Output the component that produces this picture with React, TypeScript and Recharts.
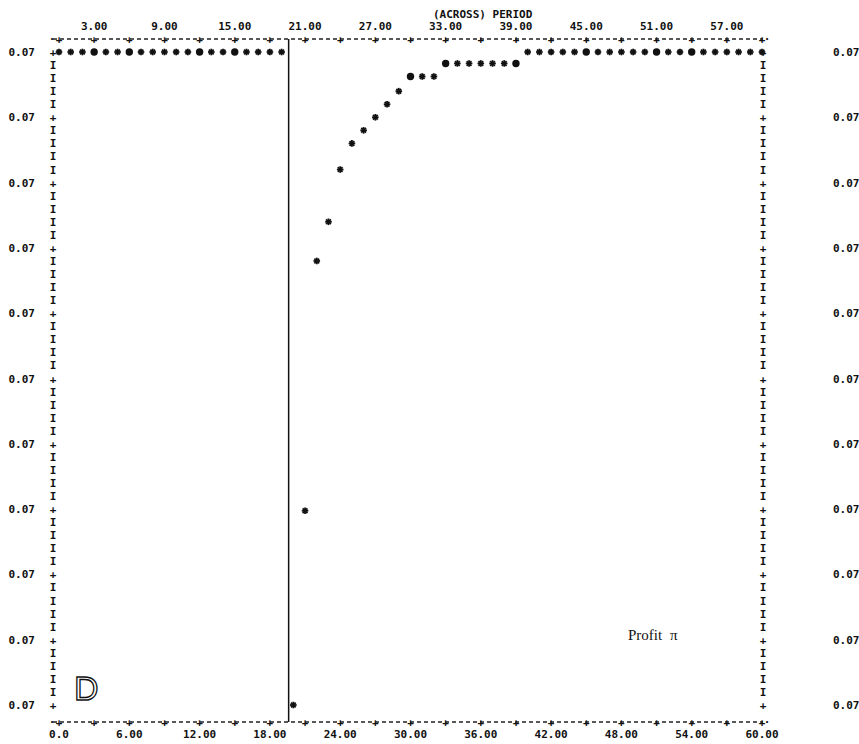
import { ScatterChart, Scatter, XAxis, YAxis, ReferenceLine } from "recharts";

// period index along the x axis
const periods = [
  0, 1, 2, 3, 4, 5, 6, 7, 8, 9, 10, 11, 12, 13, 14, 15, 16, 17, 18, 19, 20,
  21, 22, 23, 24, 25, 26, 27, 28, 29, 30, 31, 32, 33, 34, 35, 36, 37, 38, 39,
  40, 41, 42, 43, 44, 45, 46, 47, 48, 49, 50, 51, 52, 53, 54, 55, 56, 57, 58,
  59, 60,
];

// profit per period
const profit = [
  0.074, 0.074, 0.074, 0.074, 0.074, 0.074, 0.074, 0.074, 0.074, 0.074,
  0.074, 0.074, 0.074, 0.074, 0.074, 0.074, 0.074, 0.074, 0.074, 0.074,
  0.07, 0.07119, 0.07272, 0.07296, 0.07328, 0.07344, 0.07352, 0.0736, 0.07368,
  0.07376, 0.07385, 0.07385, 0.07385, 0.07393, 0.07393, 0.07393, 0.07393,
  0.07393, 0.07393, 0.07393, 0.074, 0.074, 0.074, 0.074, 0.074, 0.074, 0.074,
  0.074, 0.074, 0.074, 0.074, 0.074, 0.074, 0.074, 0.074, 0.074, 0.074,
  0.074, 0.074, 0.074, 0.074,
];

// periods printed as overstruck (filled) dots instead of '*'
const dotPeriods = [3, 6, 12, 15, 30, 33, 39, 45, 51, 54];

const xTicks = [0, 3, 6, 9, 12, 15, 18, 21, 24, 27, 30, 33, 36, 39, 42, 45, 48, 51, 54, 57, 60];
const bottomLabels = [0, 6, 12, 18, 24, 30, 36, 42, 48, 54, 60];
const topLabels = [3, 9, 15, 21, 27, 33, 39, 45, 51, 57];
const yMajor = [0.07, 0.0704, 0.0708, 0.0712, 0.0716, 0.072, 0.0724, 0.0728, 0.0732, 0.0736, 0.074];
const dropPeriod = 19.6;

const MONO = '"DejaVu Sans Mono", "Liberation Mono", monospace';

// 'I' rows between the '+' marks, like the printer border
const yTicks: number[] = [];
yMajor.forEach((v, i) => {
  yTicks.push(v);
  if (i < yMajor.length - 1) {
    const step = (yMajor[i + 1] - v) / 5;
    for (let k = 1; k < 5; k++) yTicks.push(v + step * k);
  }
});

const isMajor = (v: number) => yMajor.some((m) => Math.abs(m - v) < 1e-7);

const data = periods.map((p, i) => ({ period: p, profit: profit[i] }));
const starData = data.filter((d) => !dotPeriods.includes(d.period));
const dotData = data.filter((d) => dotPeriods.includes(d.period));

const glyph = { fontFamily: MONO, fontSize: 11, fontWeight: 700, fill: "#111" };

function BottomTick(props: any) {
  const { x, y, payload, index } = props;
  const v = payload.value;
  return (
    <g>
      <text x={x} y={y + 4} textAnchor="middle" {...glyph}>+</text>
      {index === 0 && <text x={x - 7} y={y + 1} textAnchor="middle" {...glyph}>.</text>}
      {v === 60 && <text x={x + 5} y={y + 1} textAnchor="middle" {...glyph}>.</text>}
      {bottomLabels.includes(v) && (
        <text x={x} y={y + 16} textAnchor="middle" {...glyph}>
          {v === 0 ? "0.0" : v.toFixed(2)}
        </text>
      )}
    </g>
  );
}

function TopTick(props: any) {
  const { x, y, payload, index } = props;
  const v = payload.value;
  return (
    <g>
      <text x={x} y={y + 4} textAnchor="middle" {...glyph}>+</text>
      {index === 0 && <text x={x - 7} y={y + 1} textAnchor="middle" {...glyph}>.</text>}
      {v === 60 && <text x={x + 5} y={y + 1} textAnchor="middle" {...glyph}>.</text>}
      {topLabels.includes(v) && (
        <text x={x} y={y - 9} textAnchor="middle" {...glyph}>
          {v.toFixed(2)}
        </text>
      )}
    </g>
  );
}

function LeftTick(props: any) {
  const { x, y, payload } = props;
  const major = isMajor(payload.value);
  return (
    <g>
      <text x={x} y={y + 4} textAnchor="middle" {...glyph}>{major ? "+" : "I"}</text>
      {major && (
        <text x={x - 18} y={y + 4} textAnchor="end" {...glyph}>
          {payload.value.toFixed(2)}
        </text>
      )}
    </g>
  );
}

function RightTick(props: any) {
  const { x, y, payload } = props;
  const major = isMajor(payload.value);
  return (
    <g>
      <text x={x} y={y + 4} textAnchor="middle" {...glyph}>{major ? "+" : "I"}</text>
      {major && (
        <text x={x + 70} y={y + 4} textAnchor="start" {...glyph}>
          {payload.value.toFixed(2)}
        </text>
      )}
    </g>
  );
}

function Star(props: any) {
  const { cx, cy } = props;
  const r = 3.3;
  const d = r * 0.72;
  return (
    <g stroke="#111" strokeWidth={1.8}>
      <line x1={cx - r} y1={cy} x2={cx + r} y2={cy} />
      <line x1={cx} y1={cy - r} x2={cx} y2={cy + r} />
      <line x1={cx - d} y1={cy - d} x2={cx + d} y2={cy + d} />
      <line x1={cx - d} y1={cy + d} x2={cx + d} y2={cy - d} />
    </g>
  );
}

function Dot(props: any) {
  const { cx, cy } = props;
  return <circle cx={cx} cy={cy} r={3.7} fill="#111" />;
}

const axisCommon = {
  type: "number" as const,
  dataKey: "period",
  domain: [0, 60],
  ticks: xTicks,
  interval: 0 as const,
  tickSize: 0,
  tickMargin: 0,
  tickLine: false,
  padding: { left: 6, right: 1 },
  axisLine: { stroke: "#222", strokeWidth: 1.3, strokeDasharray: "4 3" },
};

const yCommon = {
  type: "number" as const,
  dataKey: "profit",
  domain: [0.07, 0.074],
  ticks: yTicks,
  interval: 0 as const,
  tickSize: 0,
  tickMargin: 0,
  tickLine: false,
  axisLine: false,
  padding: { top: 13, bottom: 17 },
};

export default function App() {
  return (
    <div style={{ position: "relative", width: 859, height: 744, background: "#fff" }}>
      <style>{`body{margin:0;background:#fff}`}</style>
      <ScatterChart width={859} height={744} margin={{ top: 0, right: 0, bottom: 0, left: 0 }}>
        <XAxis xAxisId="bottom" orientation="bottom" height={22} tick={<BottomTick />} {...axisCommon} />
        <XAxis xAxisId="top" orientation="top" height={39} tick={<TopTick />} allowDataOverflow {...axisCommon} />
        <YAxis yAxisId="left" orientation="left" width={53} tick={<LeftTick />} {...yCommon} />
        <YAxis yAxisId="right" orientation="right" width={96} tick={<RightTick />} allowDataOverflow {...yCommon} />
        <ReferenceLine xAxisId="bottom" yAxisId="left" x={dropPeriod} stroke="#111" strokeWidth={1.5} />
        <Scatter xAxisId="bottom" yAxisId="left" data={starData} shape={<Star />} isAnimationActive={false} />
        <Scatter xAxisId="bottom" yAxisId="left" data={dotData} shape={<Dot />} isAnimationActive={false} />
      </ScatterChart>
      <svg width={859} height={744} style={{ position: "absolute", left: 0, top: 0, pointerEvents: "none" }}>
        <text x={433} y={18} {...glyph}>(ACROSS) PERIOD</text>
        <text x={628} y={640} fontFamily='"Liberation Serif", serif' fontSize={15} fill="#111">
          Profit <tspan dx={4}>π</tspan>
        </text>
        <text x={74} y={700} fontFamily='"Liberation Sans", sans-serif' fontSize={34} fill="none" stroke="#111" strokeWidth={1.3}>
          D
        </text>
      </svg>
    </div>
  );
}
